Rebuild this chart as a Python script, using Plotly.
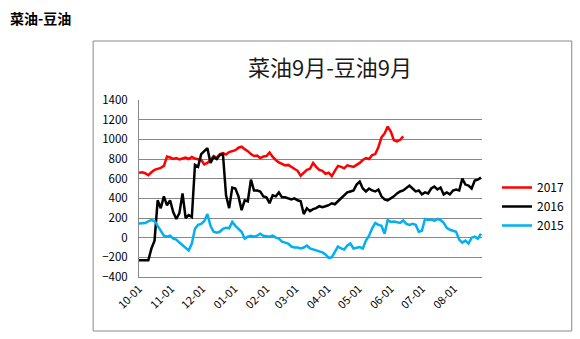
import pandas as pd
import plotly.graph_objects as go

# Spread: rapeseed oil Sep contract minus soybean oil Sep contract, sampled every 3 days from 10-01
start_date = "2016-10-01"
step = "3D"

spread_2017 = [660, 665, 655, 635, 665, 690, 700, 710, 730, 825,
               815, 800, 810, 795, 805, 815, 800, 820, 805, 800,
               790, 745, 760, 790, 830, 815, 850, 860, 845, 870,
               880, 890, 915, 925, 900, 880, 850, 830, 835, 810,
               825, 830, 865, 820, 790, 765, 750, 735, 740, 720,
               700, 680, 630, 665, 690, 700, 760, 720, 690, 680,
               650, 660, 625, 680, 730, 720, 705, 735, 725, 720,
               740, 760, 790, 810, 800, 840, 850, 920, 1020, 1060,
               1130, 1080, 990, 980, 995, 1030]

spread_2016 = [-230, -230, -230, -230, -110, -30, 380, 300, 420, 330,
               380, 260, 190, 250, 450, 200, 230, 210, 740, 720,
               850, 880, 910, 760, 820, 800, 840, 850, 430, 300,
               510, 500, 420, 280, 380, 370, 590, 480, 480, 470,
               420, 410, 350, 430, 420, 460, 410, 410, 400, 390,
               400, 380, 370, 240, 300, 270, 290, 300, 320, 310,
               320, 330, 350, 340, 370, 400, 440, 460, 470, 480,
               540, 570, 500, 470, 500, 480, 470, 490, 420, 390,
               380, 400, 420, 450, 470, 480, 510, 530, 500, 470,
               480, 440, 460, 450, 500, 520, 490, 510, 440, 460,
               440, 480, 490, 480, 600, 540, 530, 500, 580, 590,
               610]

spread_2015 = [145, 150, 150, 165, 180, 170, 120, 60, 20, 10,
               20, -10, -20, -50, -80, -100, -130, -60, 90, 130,
               140, 170, 240, 120, 60, 50, 60, 90, 100, 95,
               160, 120, 90, 60, -10, 10, 20, 10, 20, 40,
               20, 15, 10, 20, 0, -10, -40, -50, -60, -90,
               -100, -100, -110, -100, -80, -110, -120, -130, -140, -150,
               -170, -205, -200, -150, -90, -110, -120, -80, -60, -110,
               -100, -95, -110, -30, 20, 95, 150, 130, 120, 40,
               180, 160, 165, 160, 150, 175, 140, 130, 140, 130,
               60, 70, 190, 180, 185, 170, 190, 180, 150, 100,
               80, 70, 60, -20, -50, -30, -60, 0, 10, -10,
               40]

series = [("2017", spread_2017, "#FF0000"),
          ("2016", spread_2016, "#000000"),
          ("2015", spread_2015, "#00B0F0")]

W, H = 580, 339
PL, PR, PT, PB = 139, 483, 100, 277  # plot area in pixels


def px_x(px):
    return (px - PL) / (PR - PL)


def px_y(py):
    return (PB - py) / (PB - PT)


fig = go.Figure()
for name, vals, color in series:
    dates = pd.date_range(start_date, periods=len(vals), freq=step)
    fig.add_trace(go.Scatter(x=dates, y=vals, mode="lines", name=name,
                             line=dict(color=color, width=2.5)))

font_family = "Noto Sans CJK SC, Noto Sans, sans-serif"

fig.update_layout(
    width=W, height=H,
    margin=dict(l=PL, r=W - PR, t=PT, b=H - PB),
    paper_bgcolor="white", plot_bgcolor="white",
    font=dict(family=font_family, size=11.5, color="#000000"),
    showlegend=True,
    legend=dict(x=px_x(497), y=px_y(173), xanchor="left", yanchor="top",
                font=dict(size=12, color="#000000"), bgcolor="rgba(0,0,0,0)",
                itemwidth=30, tracegroupgap=0),
)

fig.update_xaxes(
    type="date",
    range=["2016-10-01", "2017-08-28"],
    tick0="2016-10-01", dtick="M1", tickformat="%m-%d",
    tickangle=-45, tickfont=dict(size=11),
    showgrid=False, showline=True, linecolor="#878787", linewidth=1,
    ticks="", zeroline=False,
)
fig.update_yaxes(
    range=[-400, 1400], dtick=200, tick0=-400,
    showgrid=True, gridcolor="#878787", gridwidth=1,
    showline=True, linecolor="#878787", linewidth=1,
    ticks="", zeroline=False, ticklabelstandoff=8,
)

# outer chart frame
fig.add_shape(type="rect", xref="paper", yref="paper",
              x0=px_x(93), x1=px_x(573), y0=px_y(331), y1=px_y(41),
              line=dict(color="#888888", width=1), fillcolor="rgba(0,0,0,0)",
              layer="below")

# chart title
fig.add_annotation(text="菜油9月-豆油9月", xref="paper", yref="paper",
                   x=px_x(331), y=px_y(66), xanchor="center", yanchor="middle",
                   showarrow=False, font=dict(size=22, color="#1a1a1a", family=font_family))

# page heading
fig.add_annotation(text="<b>菜油-豆油</b>", xref="paper", yref="paper",
                   x=px_x(8), y=px_y(18), xanchor="left", yanchor="middle",
                   showarrow=False, font=dict(size=14, color="#000000", family=font_family))

fig.write_html("out.html")
